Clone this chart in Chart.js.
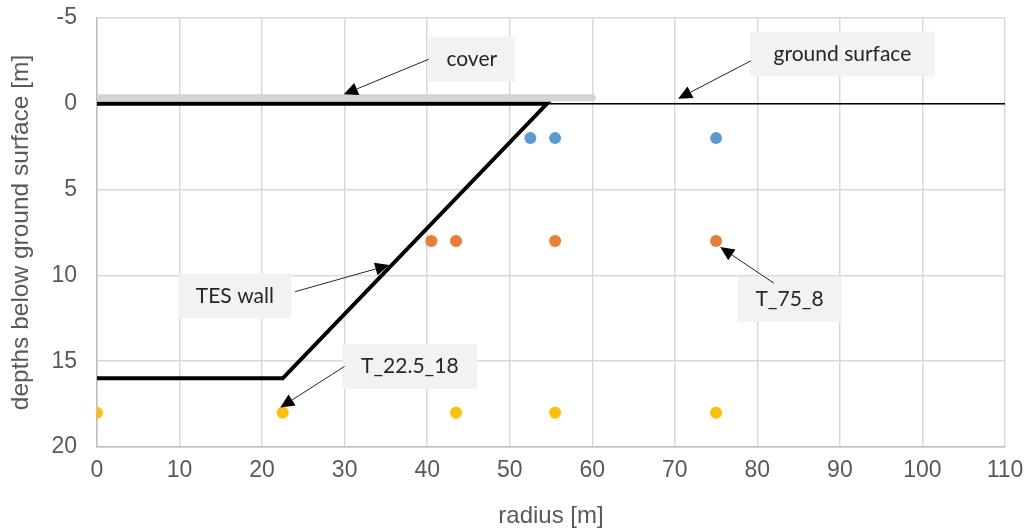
<!DOCTYPE html>
<html>
<head>
<meta charset="utf-8">
<script src="https://cdn.jsdelivr.net/npm/chart.js@4"></script>
<style>
  html, body { margin: 0; padding: 0; background: #fff; }
  #wrap { width: 1029px; height: 531px; }
</style>
</head>
<body>
<div id="wrap"><canvas id="chart" width="1029" height="531"></canvas></div>
<script>
// x ticks / y ticks
const xMin = 0, xMax = 110, xStep = 10;
const yMin = -5, yMax = 20, yStep = 5;

// sensor rows (radius positions at each depth)
const blueX = [52.5, 55.5, 75];
const blueDepth = 2;
const orangeX = [40.5, 43.5, 55.5, 75];
const orangeDepth = 8;
const yellowX = [0, 22.5, 43.5, 55.5, 75];
const yellowDepth = 18;

// geometry lines
const groundX = [0, 110];
const groundY = [0, 0];
const coverX = [0, 60];
const coverY = [-0.35, -0.35];
const wallX = [0, 54.5, 22.5, 0];
const wallY = [0, 0, 16, 16];

// callouts: text, box centre (data units), arrow start, arrow tip
const noteText = ["cover", "ground surface", "TES wall", "T_22.5_18", "T_75_8"];
const noteX = [45.4, 90.3, 16.7, 37.9, 83.9];
const noteY = [-2.6, -2.9, 11.2, 15.3, 11.4];
const noteW = [87, 185, 113, 135, 104];
const fromX = [40.2, 79.2, 24.0, 30.0, 82.0];
const fromY = [-2.6, -2.5, 10.95, 15.3, 10.45];
const tipX = [29.9, 70.4, 35.4, 22.2, 75.5];
const tipY = [-0.55, -0.3, 9.4, 17.7, 8.35];

function pts(xs, ys) {
  return xs.map((x, i) => ({ x: x, y: Array.isArray(ys) ? ys[i] : ys }));
}

const calloutPlugin = {
  id: "callouts",
  afterDatasetsDraw(chart) {
    const ctx = chart.ctx;
    const sx = chart.scales.x, sy = chart.scales.y;
    ctx.save();
    noteText.forEach((t, i) => {
      const cx = sx.getPixelForValue(noteX[i]);
      const cy = sy.getPixelForValue(noteY[i]);
      const w = noteW[i], h = 45;
      ctx.fillStyle = "#f2f2f2";
      ctx.fillRect(cx - w / 2, cy - h / 2, w, h);
      ctx.fillStyle = "#262626";
      ctx.font = "21px Lato";
      ctx.textAlign = "center";
      ctx.textBaseline = "middle";
      ctx.fillText(t, cx, cy);

      const x0 = sx.getPixelForValue(fromX[i]);
      const y0 = sy.getPixelForValue(fromY[i]);
      const x1 = sx.getPixelForValue(tipX[i]);
      const y1 = sy.getPixelForValue(tipY[i]);
      const a = Math.atan2(y1 - y0, x1 - x0);
      const len = 14, half = 6.5;
      const bx = x1 - len * Math.cos(a), by = y1 - len * Math.sin(a);
      ctx.strokeStyle = "#262626";
      ctx.lineWidth = 1;
      ctx.beginPath();
      ctx.moveTo(x0, y0);
      ctx.lineTo(bx, by);
      ctx.stroke();
      ctx.fillStyle = "#000";
      ctx.beginPath();
      ctx.moveTo(x1, y1);
      ctx.lineTo(bx + half * Math.sin(a), by - half * Math.cos(a));
      ctx.lineTo(bx - half * Math.sin(a), by + half * Math.cos(a));
      ctx.closePath();
      ctx.fill();
    });
    ctx.restore();
  }
};

const tickFont = { family: "Liberation Sans", size: 23 };

new Chart(document.getElementById("chart").getContext("2d"), {
  type: "scatter",
  data: {
    datasets: [
      { label: "ground surface", data: pts(groundX, groundY), showLine: true, borderColor: "#000", borderWidth: 1.5, pointRadius: 0, order: 4 },
      { label: "cover", data: pts(coverX, coverY), showLine: true, borderColor: "#d4d4d4", borderWidth: 7, borderCapStyle: "round", pointRadius: 0, order: 5 },
      { label: "TES wall", data: pts(wallX, wallY), showLine: true, borderColor: "#000", borderWidth: 4, borderJoinStyle: "miter", pointRadius: 0, order: 3 },
      { label: "2 m", data: pts(blueX, blueDepth), backgroundColor: "#5b9bd5", borderWidth: 0, pointRadius: 6, order: 1 },
      { label: "8 m", data: pts(orangeX, orangeDepth), backgroundColor: "#ed7d31", borderWidth: 0, pointRadius: 6, order: 1 },
      { label: "18 m", data: pts(yellowX, yellowDepth), backgroundColor: "#ffc000", borderWidth: 0, pointRadius: 6, order: 1 }
    ]
  },
  options: {
    responsive: false,
    animation: false,
    layout: { padding: { top: 18, right: 24, left: 0, bottom: 0 } },
    plugins: { legend: { display: false }, tooltip: { enabled: false } },
    scales: {
      x: {
        type: "linear", min: xMin, max: xMax,
        ticks: { stepSize: xStep, color: "#595959", font: tickFont, padding: 10 },
        grid: { color: "#d9d9d9", lineWidth: 1.5, drawTicks: false },
        border: { color: "#bfbfbf", width: 1.5 },
        title: { display: true, text: "radius [m]", color: "#595959", font: { family: "Liberation Sans", size: 24 }, padding: 0 },
        afterFit(s) { s.height = 84; s.paddingLeft = 0; s.paddingRight = 0; }
      },
      y: {
        type: "linear", min: yMin, max: yMax, reverse: true,
        ticks: { stepSize: yStep, color: "#595959", font: tickFont, padding: 20 },
        grid: { color: "#d9d9d9", lineWidth: 1.5, drawTicks: false },
        border: { color: "#bfbfbf", width: 1.5 },
        title: { display: true, text: "depths below ground surface [m]", color: "#595959", font: { family: "Liberation Sans", size: 24.5 }, padding: 7 },
        afterFit(s) { s.width = 97; s.paddingTop = 0; s.paddingBottom = 0; }
      }
    }
  },
  plugins: [calloutPlugin]
});
</script>
</body>
</html>
